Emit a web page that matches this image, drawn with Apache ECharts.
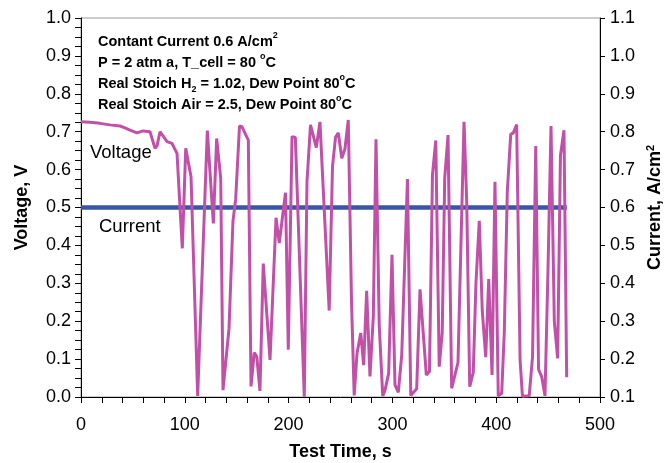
<!DOCTYPE html>
<html><head><meta charset="utf-8">
<script src="https://cdn.jsdelivr.net/npm/echarts@6/dist/echarts.min.js"></script>
<style>html,body{margin:0;padding:0;background:#fff}#c{width:671px;height:463px}</style>
</head><body><div id="c"></div>
<script>
// Test time (s) and cell voltage (V)
const timeS = [0, 8.7, 18.3, 27.9, 37.6, 42.4, 47.2, 53.9, 59.7, 66.5,
  68.4, 71.3, 73.2, 76.1, 79.0, 82.9, 87.7, 92.5, 97.6, 100.9,
  106.0, 112.4, 121.7, 127.5, 130.7, 134.6, 136.8, 142.6, 146.4, 149.0,
  152.7, 155.1, 161.2, 163.8, 166.9, 169.4, 172.4, 175.6, 182.1, 187.9,
  191.0, 197.0, 199.7, 203.3, 206.5, 215.1, 217.7, 221.1, 226.7, 230.2,
  239.1, 242.3, 245.2, 247.9, 251.2, 254.3, 257.5, 260.6, 263.2, 265.9,
  269.5, 272.3, 275.2, 278.4, 281.6, 284.2, 287.3, 290.7, 292.9, 296.4,
  299.6, 302.5, 305.7, 309.0, 314.5, 317.7, 323.4, 326.6, 332.7, 335.7,
  338.6, 341.8, 345.1, 348.0, 350.4, 353.6, 357.1, 363.2, 369.0, 371.6,
  374.5, 377.9, 380.5, 383.7, 386.6, 389.9, 392.8, 396.0, 398.8, 402.0,
  405.3, 407.8, 410.7, 414.0, 416.5, 419.7, 423.0, 425.3, 431.8, 435.0,
  438.1, 440.8, 443.8, 447.0, 449.9, 452.8, 456.0, 459.2, 461.9, 465.3,
  467.9];
const voltageV = [0.726, 0.725, 0.722, 0.718, 0.715, 0.710, 0.704, 0.697, 0.702, 0.700,
  0.702, 0.656, 0.662, 0.700, 0.689, 0.674, 0.669, 0.643, 0.392, 0.656,
  0.581, 0.003, 0.703, 0.458, 0.682, 0.577, 0.018, 0.181, 0.464, 0.522,
  0.715, 0.713, 0.678, 0.028, 0.117, 0.106, 0.016, 0.352, 0.098, 0.473,
  0.406, 0.539, 0.125, 0.687, 0.685, 0.001, 0.568, 0.718, 0.658, 0.726,
  0.228, 0.608, 0.685, 0.697, 0.630, 0.655, 0.731, 0.253, 0.004, 0.115,
  0.169, 0.084, 0.280, 0.054, 0.212, 0.680, 0.190, 0.003, 0.018, 0.063,
  0.375, 0.032, 0.012, 0.111, 0.575, 0.004, 0.022, 0.284, 0.058, 0.067,
  0.586, 0.677, 0.080, 0.170, 0.577, 0.691, 0.023, 0.091, 0.726, 0.515,
  0.027, 0.065, 0.300, 0.465, 0.227, 0.105, 0.311, 0.058, 0.568, 0.003,
  0.010, 0.172, 0.542, 0.693, 0.697, 0.719, 0.098, 0.002, 0.003, 0.106,
  0.662, 0.073, 0.054, 0.003, 0.335, 0.715, 0.199, 0.102, 0.637, 0.704,
  0.052];
// Constant current (A/cm2)
const currentTimeS = [0, 100, 200, 300, 400, 468];
const currentA = [0.6, 0.6, 0.6, 0.6, 0.6, 0.6];
// Axis ranges
const xRange = [0, 500];
const voltageRange = [0, 1.0];
const currentRange = [0.1, 1.1];

const chart = echarts.init(document.getElementById('c'));
const font = 'Liberation Sans, Arial, sans-serif';
const voltageData = timeS.map((t, i) => [t, voltageV[i]]);
const currentData = currentTimeS.map((t, i) => [t, currentA[i]]);

const annoRich = {
  b: {fontFamily: font, fontWeight: 'bold', fontSize: 14.5, lineHeight: 21, color: '#000'},
  sup: {fontFamily: font, fontWeight: 'bold', fontSize: 9, lineHeight: 21, color: '#000', verticalAlign: 'top'},
  sub: {fontFamily: font, fontWeight: 'bold', fontSize: 9, lineHeight: 21, color: '#000', verticalAlign: 'bottom'}
};

chart.setOption({
  animation: false,
  backgroundColor: '#fff',
  grid: {left: 81, right: 71, top: 18, bottom: 66, containLabel: false, outerBoundsMode: 'none',
    show: true, borderColor: '#999', borderWidth: 1},
  xAxis: {
    type: 'value', min: xRange[0], max: xRange[1], interval: 100,
    axisLine: {lineStyle: {color: '#000', width: 1}},
    axisTick: {show: true, inside: false, length: 6, lineStyle: {color: '#000'}},
    minorTick: {show: true, splitNumber: 5, length: 6, lineStyle: {color: '#000'}},
    splitLine: {show: false},
    axisLabel: {fontFamily: font, fontSize: 18, color: '#000', margin: 19},
    name: 'Test Time, s', nameLocation: 'middle', nameGap: 46,
    nameTextStyle: {fontFamily: font, fontSize: 18, fontWeight: 'bold', color: '#000'}
  },
  yAxis: [{
    type: 'value', min: voltageRange[0], max: voltageRange[1], interval: 0.1,
    axisLine: {show: true, lineStyle: {color: '#000', width: 1}},
    axisTick: {show: true, inside: false, length: 6, lineStyle: {color: '#000'}},
    minorTick: {show: true, splitNumber: 4, length: 6, lineStyle: {color: '#000'}},
    splitLine: {show: false},
    axisLabel: {fontFamily: font, fontSize: 18, color: '#000', margin: 10, formatter: v => v.toFixed(1)},
    name: 'Voltage, V', nameLocation: 'middle', nameGap: 50, nameRotate: 90,
    nameTextStyle: {fontFamily: font, fontSize: 18, fontWeight: 'bold', color: '#000'}
  }, {
    type: 'value', position: 'right', min: currentRange[0], max: currentRange[1], interval: 0.1,
    axisLine: {show: true, lineStyle: {color: '#000', width: 1}},
    axisTick: {show: true, inside: false, length: 5, lineStyle: {color: '#000'}},
    splitLine: {show: false},
    axisLabel: {fontFamily: font, fontSize: 18, color: '#000', margin: 10, formatter: v => v.toFixed(1)},
    name: 'Current, A/cm{sup|2}', nameLocation: 'middle', nameGap: 40, nameRotate: 90,
    nameTextStyle: {fontFamily: font, fontSize: 18, fontWeight: 'bold', color: '#000',
      rich: {sup: {fontFamily: font, fontSize: 11, fontWeight: 'bold', color: '#000', verticalAlign: 'top', lineHeight: 18}}}
  }],
  series: [{
    type: 'line', name: 'Current', yAxisIndex: 1, data: currentData, showSymbol: false,
    lineStyle: {color: '#3A56A6', width: 4.5}, z: 2
  }, {
    type: 'line', name: 'Voltage', yAxisIndex: 0, data: voltageData, showSymbol: false,
    lineStyle: {color: '#C050A8', width: 3}, z: 3
  }],
  graphic: [
    {type: 'text', left: 98, top: 31, z: 10, style: {
      text: '{b|Contant Current 0.6 A/cm}{sup|2}\n' +
            '{b|P = 2 atm a, T_cell = 80 }{sup|o}{b|C}\n' +
            '{b|Real Stoich H}{sub|2}{b| = 1.02, Dew Point 80}{sup|o}{b|C}\n' +
            '{b|Real Stoich Air = 2.5, Dew Point 80}{sup|o}{b|C}',
      rich: annoRich}},
    {type: 'text', left: 90, top: 143, z: 10, style: {text: 'Voltage', fontFamily: font, fontSize: 18.5, fill: '#000'}},
    {type: 'text', left: 99, top: 217, z: 10, style: {text: 'Current', fontFamily: font, fontSize: 18.5, fill: '#000'}}
  ]
});
</script>
</body></html>
